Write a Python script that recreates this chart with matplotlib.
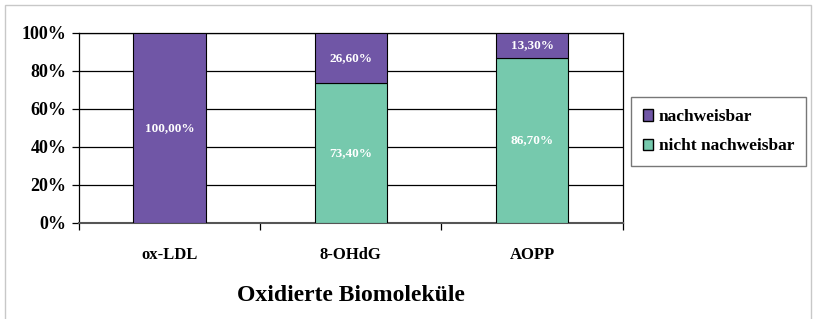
import numpy as np
import matplotlib
matplotlib.use('Agg')
import matplotlib.pyplot as plt
import matplotlib.patches as mpatches
from matplotlib.ticker import FuncFormatter

categories = ['ox-LDL', '8-OHdG', 'AOPP']
nicht_nachweisbar = [0.0, 73.4, 86.7]
nachweisbar = [100.0, 26.6, 13.3]
y_ticks = [0, 20, 40, 60, 80, 100]

purple = '#7056A6'
green = '#76C9AD'

plt.rcParams['font.family'] = 'Liberation Serif'
plt.rcParams['font.weight'] = 'bold'

fig = plt.figure(figsize=(8.14, 3.19), dpi=100)
fig.patch.set_facecolor('white')
fig.add_artist(mpatches.Rectangle((0.006, -0.01), 0.99, 0.995, transform=fig.transFigure,
                                  fill=False, edgecolor='#c8c8c8', linewidth=1.0))

ax = fig.add_axes([0.097, 0.301, 0.668, 0.596])
x = np.arange(len(categories))
w = 0.4

ax.bar(x, nicht_nachweisbar, w, color=green, edgecolor='black', linewidth=0.8,
       label='nicht nachweisbar', zorder=3)
ax.bar(x, nachweisbar, w, bottom=nicht_nachweisbar, color=purple, edgecolor='black',
       linewidth=0.8, label='nachweisbar', zorder=3)

for i in range(len(categories)):
    if nicht_nachweisbar[i] > 0:
        ax.text(x[i], nicht_nachweisbar[i] / 2, f'{nicht_nachweisbar[i]:.2f}%'.replace('.', ','),
                ha='center', va='center', color='white', fontsize=9.5, fontweight='bold', zorder=4)
    ax.text(x[i], nicht_nachweisbar[i] + nachweisbar[i] / 2, f'{nachweisbar[i]:.2f}%'.replace('.', ','),
            ha='center', va='center', color='white', fontsize=9.5, fontweight='bold', zorder=4)

ax.set_xlim(-0.5, len(categories) - 0.5)
ax.set_ylim(0, 100)
ax.set_yticks(y_ticks)
ax.yaxis.set_major_formatter(FuncFormatter(lambda v, p: f'{v:.0f}%'))
ax.grid(axis='y', color='black', linewidth=0.9, zorder=0)
ax.set_xticks(x)
ax.set_xticklabels(categories, fontsize=12, fontweight='bold')
ax.set_xticks(np.arange(len(categories) + 1) - 0.5, minor=True)
ax.tick_params(axis='x', which='major', length=0, pad=17)
ax.tick_params(axis='x', which='minor', length=5, width=0.9, direction='out')
ax.tick_params(axis='y', length=5, width=0.9, labelsize=13, pad=4)
for lab in ax.get_yticklabels():
    lab.set_fontweight('bold')
for s in ax.spines.values():
    s.set_color('black')
    s.set_linewidth(0.9)
ax.spines['bottom'].set_color('#555555')
ax.spines['bottom'].set_linewidth(1.5)

ax.set_xlabel('Oxidierte Biomoleküle', fontsize=17, fontweight='bold', labelpad=16)

handles = [mpatches.Patch(facecolor=purple, edgecolor='black', label='nachweisbar'),
           mpatches.Patch(facecolor=green, edgecolor='black', label='nicht nachweisbar')]
leg = fig.legend(handles=handles, loc='upper left', bbox_to_anchor=(0.775, 0.696),
                 borderaxespad=0, prop={'family': 'Liberation Serif', 'weight': 'bold', 'size': 12.5},
                 frameon=True, fancybox=False,
                 edgecolor='#555555', handlelength=0.6, handleheight=0.6,
                 handletextpad=0.3, labelspacing=0.75, borderpad=0.7)
leg.get_frame().set_linewidth(1.0)

fig.savefig('out.png', dpi=100, facecolor='white')
